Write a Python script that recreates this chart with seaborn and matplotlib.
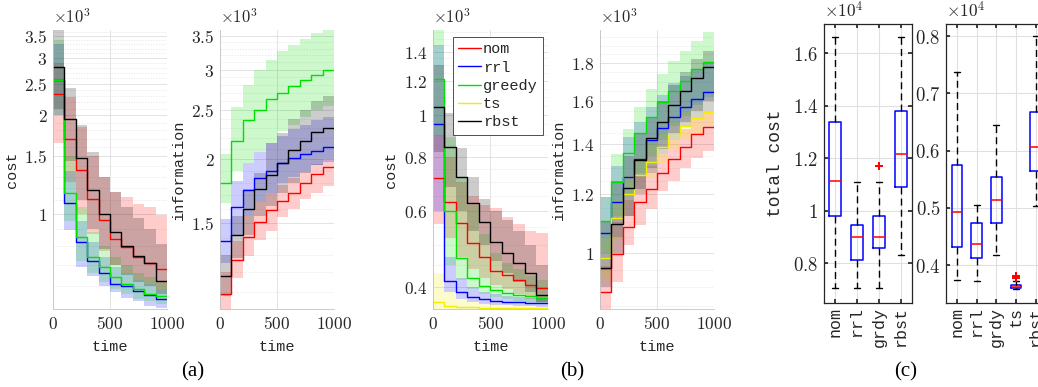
import matplotlib
matplotlib.use("Agg")
import matplotlib.pyplot as plt
import seaborn as sns
from matplotlib.ticker import FixedLocator, FuncFormatter, MultipleLocator, NullFormatter

# time grid (step edges)
time = [0, 100, 200, 300, 400, 500, 600, 700, 800, 900, 1000]

names = ["nom", "rrl", "greedy", "ts", "rbst"]
colors = {"nom": "#ff0000", "rrl": "#0000ff", "greedy": "#00e000",
          "ts": "#f2ee00", "rbst": "#000000"}

# ---- (a) cost, x10^3
a_cost_mid = {
    "nom":    [2.33, 1.69, 1.36, 1.11, 0.96, 0.84, 0.79, 0.74, 0.71, 0.68],
    "rrl":    [2.57, 1.08, 0.82, 0.72, 0.66, 0.61, 0.60, 0.58, 0.565, 0.55],
    "greedy": [2.57, 1.16, 0.85, 0.74, 0.69, 0.64, 0.61, 0.59, 0.57, 0.56],
    "rbst":   [2.81, 1.95, 1.48, 1.18, 1.00, 0.88, 0.80, 0.745, 0.71, 0.625],
}
a_cost_lo = {
    "nom":    [1.65, 1.25, 1.00, 0.87, 0.77, 0.70, 0.66, 0.63, 0.61, 0.59],
    "rrl":    [2.00, 0.89, 0.69, 0.646, 0.60, 0.576, 0.555, 0.54, 0.523, 0.515],
    "greedy": [2.00, 0.95, 0.72, 0.66, 0.62, 0.59, 0.57, 0.55, 0.54, 0.53],
    "rbst":   [2.10, 1.45, 1.10, 0.90, 0.78, 0.70, 0.65, 0.62, 0.60, 0.57],
}
a_cost_hi = {
    "nom":    [2.90, 2.28, 1.85, 1.50, 1.30, 1.17, 1.13, 1.07, 1.05, 0.99],
    "rrl":    [3.30, 1.35, 0.95, 0.82, 0.74, 0.69, 0.66, 0.63, 0.61, 0.59],
    "greedy": [3.40, 1.50, 1.05, 0.88, 0.80, 0.74, 0.70, 0.66, 0.64, 0.62],
    "rbst":   [3.65, 2.43, 1.87, 1.55, 1.30, 1.17, 1.05, 0.97, 0.90, 0.81],
}

# ---- (a) information, x10^3
a_info_mid = {
    "nom":    [1.09, 1.27, 1.41, 1.51, 1.59, 1.66, 1.72, 1.80, 1.87, 1.93],
    "rrl":    [1.38, 1.61, 1.74, 1.84, 1.90, 1.97, 2.01, 2.05, 2.08, 2.12],
    "greedy": [1.80, 2.17, 2.39, 2.50, 2.63, 2.70, 2.79, 2.87, 2.93, 2.99],
    "rbst":   [1.18, 1.42, 1.60, 1.75, 1.86, 1.97, 2.09, 2.17, 2.26, 2.31],
}
a_info_lo = {
    "nom":    [1.00, 1.17, 1.29, 1.39, 1.45, 1.54, 1.60, 1.67, 1.72, 1.77],
    "rrl":    [1.25, 1.42, 1.55, 1.65, 1.72, 1.80, 1.85, 1.90, 1.95, 1.98],
    "greedy": [1.64, 1.90, 1.97, 2.07, 2.15, 2.27, 2.34, 2.42, 2.50, 2.55],
    "rbst":   [1.08, 1.28, 1.42, 1.55, 1.62, 1.72, 1.80, 1.88, 1.95, 2.00],
}
a_info_hi = {
    "nom":    [1.20, 1.38, 1.55, 1.65, 1.72, 1.78, 1.84, 1.90, 1.96, 2.00],
    "rrl":    [1.53, 1.81, 1.97, 2.07, 2.15, 2.22, 2.29, 2.34, 2.39, 2.42],
    "greedy": [2.05, 2.53, 2.80, 2.99, 3.14, 3.26, 3.35, 3.44, 3.54, 3.60],
    "rbst":   [1.30, 1.55, 1.75, 1.88, 2.15, 2.25, 2.40, 2.50, 2.60, 2.66],
}

# ---- (b) cost, x10^3
b_cost_mid = {
    "nom":    [0.713, 0.629, 0.561, 0.507, 0.470, 0.435, 0.426, 0.415, 0.404, 0.397],
    "rrl":    [0.952, 0.413, 0.389, 0.380, 0.375, 0.372, 0.370, 0.369, 0.368, 0.367],
    "greedy": [1.21, 0.600, 0.466, 0.420, 0.403, 0.394, 0.388, 0.383, 0.381, 0.378],
    "ts":     [0.370, 0.362, 0.360, 0.359, 0.358, 0.358, 0.357, 0.357, 0.357, 0.357],
    "rbst":   [1.04, 0.843, 0.719, 0.624, 0.566, 0.509, 0.479, 0.454, 0.432, 0.383],
}
b_cost_lo = {
    "nom":    [0.56, 0.52, 0.47, 0.44, 0.42, 0.405, 0.395, 0.385, 0.375, 0.370],
    "rrl":    [0.60, 0.39, 0.375, 0.370, 0.366, 0.364, 0.363, 0.362, 0.361, 0.360],
    "greedy": [0.90, 0.45, 0.415, 0.395, 0.385, 0.380, 0.375, 0.372, 0.370, 0.368],
    "ts":     [0.35, 0.35, 0.35, 0.35, 0.35, 0.35, 0.35, 0.35, 0.35, 0.35],
    "rbst":   [0.82, 0.68, 0.60, 0.54, 0.50, 0.46, 0.43, 0.41, 0.39, 0.37],
}
b_cost_hi = {
    "nom":    [0.90, 0.80, 0.70, 0.65, 0.62, 0.61, 0.58, 0.56, 0.54, 0.534],
    "rrl":    [1.45, 0.47, 0.42, 0.40, 0.39, 0.385, 0.382, 0.380, 0.378, 0.377],
    "greedy": [1.57, 0.89, 0.72, 0.62, 0.53, 0.48, 0.455, 0.44, 0.425, 0.415],
    "ts":     [0.43, 0.39, 0.375, 0.370, 0.368, 0.365, 0.363, 0.362, 0.361, 0.360],
    "rbst":   [1.30, 1.01, 0.84, 0.72, 0.64, 0.60, 0.57, 0.54, 0.50, 0.45],
}

# ---- (b) information, x10^3
b_info_mid = {
    "nom":    [0.887, 0.997, 1.085, 1.170, 1.218, 1.280, 1.336, 1.390, 1.444, 1.479],
    "rrl":    [1.063, 1.170, 1.266, 1.336, 1.419, 1.471, 1.522, 1.570, 1.609, 1.646],
    "greedy": [1.105, 1.247, 1.362, 1.449, 1.525, 1.597, 1.653, 1.705, 1.766, 1.806],
    "ts":     [0.984, 1.113, 1.200, 1.273, 1.327, 1.390, 1.441, 1.482, 1.517, 1.549],
    "rbst":   [0.954, 1.094, 1.222, 1.334, 1.426, 1.502, 1.581, 1.653, 1.717, 1.777],
}
b_info_lo = {
    "nom":    [0.84, 0.915, 1.025, 1.09, 1.145, 1.21, 1.25, 1.30, 1.34, 1.37],
    "rrl":    [0.95, 1.05, 1.12, 1.20, 1.28, 1.36, 1.42, 1.48, 1.52, 1.55],
    "greedy": [1.00, 1.12, 1.20, 1.28, 1.35, 1.42, 1.48, 1.53, 1.58, 1.62],
    "ts":     [0.92, 1.04, 1.12, 1.20, 1.26, 1.32, 1.38, 1.42, 1.45, 1.48],
    "rbst":   [0.90, 1.00, 1.12, 1.22, 1.30, 1.38, 1.45, 1.50, 1.55, 1.60],
}
b_info_hi = {
    "nom":    [0.96, 1.10, 1.18, 1.27, 1.31, 1.36, 1.42, 1.47, 1.52, 1.55],
    "rrl":    [1.19, 1.31, 1.43, 1.50, 1.57, 1.63, 1.69, 1.73, 1.77, 1.80],
    "greedy": [1.19, 1.36, 1.47, 1.57, 1.66, 1.74, 1.81, 1.87, 1.93, 1.98],
    "ts":     [1.05, 1.18, 1.27, 1.35, 1.40, 1.45, 1.50, 1.55, 1.58, 1.62],
    "rbst":   [1.10, 1.25, 1.35, 1.45, 1.52, 1.60, 1.68, 1.75, 1.82, 1.87],
}

# ---- (c) total cost boxplots, x10^4
box1_labels = ["nom", "rrl", "grdy", "rbst"]
box1_whislo = [0.705, 0.705, 0.705, 0.832]
box1_q1 = [0.980, 0.813, 0.858, 1.092]
box1_med = [1.115, 0.898, 0.900, 1.217]
box1_q3 = [1.337, 0.947, 0.979, 1.382]
box1_whishi = [1.663, 1.111, 1.111, 1.663]
box1_fliers = [[], [], [1.172], []]

box2_labels = ["nom", "rrl", "grdy", "ts", "rbst"]
box2_whislo = [0.374, 0.372, 0.417, 0.359, 0.503]
box2_q1 = [0.432, 0.413, 0.474, 0.360, 0.564]
box2_med = [0.493, 0.437, 0.514, 0.362, 0.607]
box2_q3 = [0.574, 0.474, 0.554, 0.366, 0.668]
box2_whishi = [0.738, 0.505, 0.645, 0.373, 0.800]
box2_fliers = [[], [], [], [0.378, 0.381], []]

sns.set_theme(style="white")
plt.rcParams["mathtext.fontset"] = "cm"
plt.rcParams["font.family"] = ["DejaVu Sans"]
MONO = "Liberation Mono"
TXT = "#262626"

fmt = FuncFormatter(lambda v, p: r"$%g$" % v)

fig = plt.figure(figsize=(10.38, 3.87), dpi=100)


def step_panel(rect, mid, lo, hi, ylim, yticks, minor, ylabel, legend=False):
    ax = fig.add_axes(rect)
    ax.set_yscale("log")
    for n in names:
        if n not in mid:
            continue
        c = colors[n]
        ax.fill_between(time, lo[n] + lo[n][-1:], hi[n] + hi[n][-1:],
                        step="post", color=c, alpha=0.2, lw=0)
        sns.lineplot(x=time, y=mid[n] + mid[n][-1:], drawstyle="steps-post",
                     color=c, lw=1, ax=ax, label=n if legend else None,
                     legend=False)
    ax.set_xlim(0, 1000)
    ax.set_ylim(*ylim)
    ax.set_xticks([0, 500, 1000])
    ax.xaxis.set_major_formatter(fmt)
    ax.yaxis.set_major_locator(FixedLocator(yticks))
    ax.yaxis.set_major_formatter(fmt)
    ax.yaxis.set_minor_locator(MultipleLocator(minor))
    ax.yaxis.set_minor_formatter(NullFormatter())
    ax.set_axisbelow(True)
    ax.grid(True, which="major", color="#dedede", lw=0.6)
    ax.grid(True, which="minor", axis="y", color="#e4e4e4", lw=0.5, ls=(0, (2, 2)))
    for s in ["top", "right"]:
        ax.spines[s].set_visible(False)
    for s in ["left", "bottom"]:
        ax.spines[s].set_color("#c4c4c4")
        ax.spines[s].set_linewidth(0.6)
    ax.tick_params(which="both", length=0, labelsize=12.5, labelcolor=TXT, pad=4)
    ax.set_xlabel("time", fontfamily=MONO, fontsize=11, color=TXT)
    ax.xaxis.set_label_coords(0.5, -0.112)
    ax.set_ylabel(ylabel, fontfamily=MONO, fontsize=11, color=TXT)
    ax.yaxis.set_label_coords(-0.30, 0.5)
    ax.text(0, 1.025, r"$\times10^{3}$", transform=ax.transAxes, ha="left",
            va="baseline", fontsize=12, color=TXT)
    if legend:
        leg = ax.legend(loc="upper right", bbox_to_anchor=(0.957, 0.975),
                        borderaxespad=0, fancybox=False, framealpha=1,
                        edgecolor="#333333", handlelength=1.5, handletextpad=0.12,
                        labelspacing=0.28, borderpad=0.35,
                        prop={"family": MONO, "size": 11})
        leg.get_frame().set_linewidth(0.6)
    return ax


y0, h = 0.2016, 0.7209
step_panel([0.0511, y0, 0.1098, h], a_cost_mid, a_cost_lo, a_cost_hi,
           (0.512, 3.65), [1, 1.5, 2, 2.5, 3, 3.5], 0.1, "cost")
step_panel([0.2119, y0, 0.1098, h], a_info_mid, a_info_lo, a_info_hi,
           (1.017, 3.59), [1.5, 2, 2.5, 3, 3.5], 0.1, "information")
step_panel([0.4171, y0, 0.1108, h], b_cost_mid, b_cost_lo, b_cost_hi,
           (0.356, 1.57), [0.4, 0.6, 0.8, 1, 1.2, 1.4], 0.05, "cost", legend=True)
step_panel([0.5780, y0, 0.1098, h], b_info_mid, b_info_lo, b_info_hi,
           (0.841, 1.994), [1, 1.2, 1.4, 1.6, 1.8], 0.05, "information")


def box_panel(rect, labels, whislo, q1, med, q3, whishi, fliers, ylim, yticks,
              xlim, width, capw, ylabel=None):
    ax = fig.add_axes(rect)
    stats = []
    for i in range(len(labels)):
        stats.append(dict(label=labels[i], whislo=whislo[i], q1=q1[i], med=med[i],
                          q3=q3[i], whishi=whishi[i], fliers=fliers[i]))
    ax.bxp(stats, widths=width, capwidths=capw, showfliers=True,
           boxprops=dict(color="#0000ff", lw=1.1),
           medianprops=dict(color="#ff0000", lw=1.1),
           whiskerprops=dict(color="black", lw=1.0, ls=(0, (5, 3))),
           capprops=dict(color="black", lw=1.0),
           flierprops=dict(marker="+", markeredgecolor="#ff0000", markersize=6,
                           markeredgewidth=1.4))
    ax.set_xlim(*xlim)
    ax.set_ylim(*ylim)
    ax.yaxis.set_major_locator(FixedLocator(yticks))
    ax.yaxis.set_major_formatter(fmt)
    ax.set_axisbelow(True)
    ax.grid(True, color="#e0e0e0", lw=0.8)
    for s in ax.spines.values():
        s.set_color("#262626")
        s.set_linewidth(0.9)
    ax.tick_params(axis="y", direction="in", length=3, left=True, right=True,
                   labelsize=13.5, labelcolor=TXT, color="#262626", pad=4)
    ax.tick_params(axis="x", direction="in", length=3, bottom=True, top=True,
                   labelsize=12, labelcolor=TXT, color="#262626", pad=3)
    for lab in ax.get_xticklabels():
        lab.set_rotation(90)
        lab.set_fontfamily(MONO)
    if ylabel:
        ax.set_ylabel(ylabel, fontfamily=MONO, fontsize=13, color=TXT)
        ax.yaxis.set_label_coords(-0.455, 0.5)
    ax.text(0, 1.022, r"$\times10^{4}$", transform=ax.transAxes, ha="left",
            va="baseline", fontsize=12.5, color=TXT)
    return ax


box_panel([0.7938, 0.2171, 0.0848, 0.7209], box1_labels, box1_whislo, box1_q1,
          box1_med, box1_q3, box1_whishi, box1_fliers, (0.648, 1.712),
          [0.8, 1, 1.2, 1.4, 1.6], (0.5, 4.5), 0.52, 0.27, ylabel="total cost")
box_panel([0.9114, 0.2171, 0.0968, 0.7209], box2_labels, box2_whislo, box2_q1,
          box2_med, box2_q3, box2_whishi, box2_fliers, (0.334, 0.821),
          [0.4, 0.5, 0.6, 0.7, 0.8], (0.45, 5.55), 0.54, 0.3)

for lbl, x in [("(a)", 192.5), ("(b)", 572.5), ("(c)", 905.5)]:
    fig.text(x / 1038, 1 - 372 / 387, lbl, ha="center", va="center",
             fontfamily="Liberation Serif", fontsize=15, color="black")

fig.savefig("out.png", dpi=100)
plt.close(fig)
